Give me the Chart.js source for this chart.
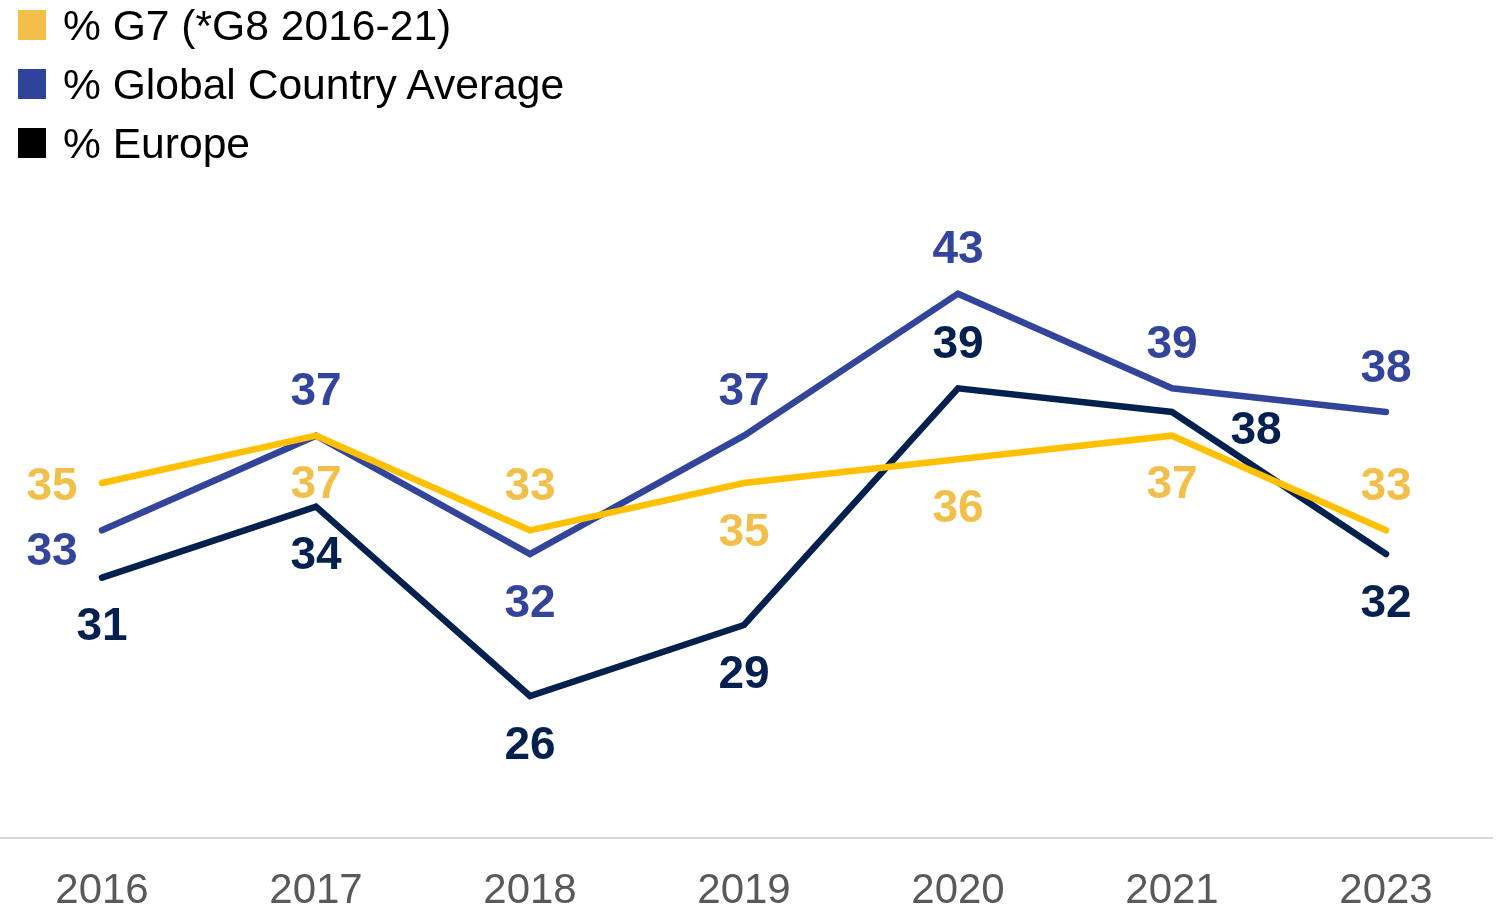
<!DOCTYPE html>
<html>
<head>
<meta charset="utf-8">
<script src="https://cdn.jsdelivr.net/npm/chart.js@4"></script>
<style>
  html, body { margin: 0; padding: 0; background: #fff; overflow: hidden; }
  body { width: 1499px; height: 906px; position: relative; font-family: "Liberation Sans", Arial, sans-serif; }
  #wrap { position: absolute; left: -5px; top: 0; width: 1498px; height: 906px; }
  .legend { position: absolute; left: 0; top: 0; }
  .legend div { position: absolute; left: 18px; height: 30px; display: flex; align-items: center; white-space: nowrap; font-size: 42.6px; color: #000; }
  .legend span.box { display: inline-block; width: 28px; height: 30px; margin-right: 17px; }
</style>
</head>
<body>
<div id="wrap"><canvas id="trendChart"></canvas></div>
<div class="legend" id="legend"></div>
<script>
document.addEventListener('DOMContentLoaded', function () {
    const ctx = document.getElementById('trendChart').getContext('2d');

    // Survey years and the three series
    const years = ['2016', '2017', '2018', '2019', '2020', '2021', '2023'];
    const g7Values = [35, 37, 33, 35, 36, 37, 33];
    const globalValues = [33, 37, 32, 37, 43, 39, 38];
    const europeValues = [31, 34, 26, 29, 39, 38, 32];

    // Where each value label sits relative to its point
    const g7Placement = ['left', 'below', 'above', 'below', 'below', 'below', 'above'];
    const globalPlacement = ['leftLow', 'above', 'below', 'above', 'above', 'above', 'above'];
    const europePlacement = ['below', 'below', 'below', 'below', 'above', 'right', 'below'];

    const offsets = {
        above: [0, -45],
        below: [0, 48],
        left: [-50, 2],
        leftLow: [-50, 20],
        right: [84, 17]
    };

    const series = [
        { label: '% G7 (*G8 2016-21)', data: g7Values, line: '#ffc000', text: '#f2c04a', swatch: '#f2c04a', placement: g7Placement },
        { label: '% Global Country Average', data: globalValues, line: '#33459b', text: '#33459b', swatch: '#2f439a', placement: globalPlacement },
        { label: '% Europe', data: europeValues, line: '#03214f', text: '#03214f', swatch: '#000000', placement: europePlacement }
    ];

    // Legend rows, stacked top-left
    const legend = document.getElementById('legend');
    series.forEach((s, i) => {
        const row = document.createElement('div');
        row.style.top = (10 + i * 59) + 'px';
        row.innerHTML = '<span class="box" style="background:' + s.swatch + '"></span>' + s.label;
        legend.appendChild(row);
    });

    // Draws the value next to each point
    const valueLabels = {
        id: 'valueLabels',
        afterDatasetsDraw(chart) {
            const c = chart.ctx;
            c.save();
            c.font = 'bold 46px "Liberation Sans", Arial, sans-serif';
            c.textAlign = 'center';
            c.textBaseline = 'alphabetic';
            chart.data.datasets.forEach((ds, di) => {
                const meta = chart.getDatasetMeta(di);
                c.fillStyle = series[di].text;
                meta.data.forEach((pt, i) => {
                    const off = offsets[series[di].placement[i]];
                    c.fillText(String(ds.data[i]), pt.x + off[0], pt.y + off[1] + 14.5);
                });
            });
            c.restore();
        }
    };

    new Chart(ctx, {
        type: 'line',
        data: {
            labels: years,
            datasets: series.map(s => ({
                label: s.label,
                data: s.data,
                borderColor: s.line,
                backgroundColor: s.line,
                borderWidth: 6.5,
                borderCapStyle: 'round',
                borderJoinStyle: 'miter',
                pointRadius: 0,
                tension: 0,
                clip: false
            }))
        },
        options: {
            responsive: true,
            maintainAspectRatio: false,
            animation: false,
            layout: { padding: { top: 128, left: 0, right: 0, bottom: 0 } },
            plugins: {
                legend: { display: false },
                tooltip: { enabled: false }
            },
            scales: {
                x: {
                    offset: true,
                    grid: { display: false, drawTicks: false },
                    border: { display: true, color: '#d9d9d9', width: 2 },
                    ticks: {
                        color: '#595959',
                        font: { family: '"Liberation Sans", Arial, sans-serif', size: 42 },
                        padding: 28,
                        maxRotation: 0
                    },
                    afterFit(scale) { scale.height = 68; }
                },
                y: {
                    display: false,
                    min: 20,
                    max: 50
                }
            }
        },
        plugins: [valueLabels]
    });
});
</script>
</body>
</html>
